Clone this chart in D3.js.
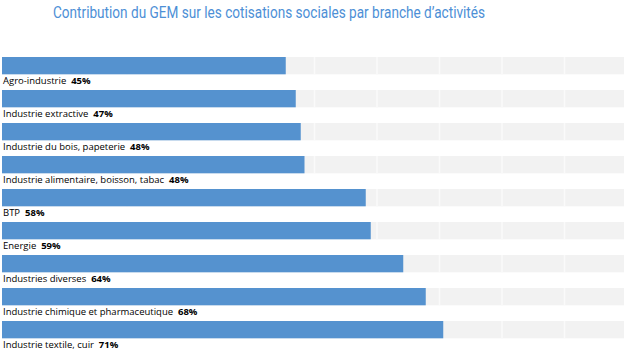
<!DOCTYPE html>
<html>
<head>
<meta charset="utf-8">
<script src="https://cdn.jsdelivr.net/npm/d3@7"></script>
<style>
  body { margin: 0; background: #fff; }
</style>
</head>
<body>
<script>
const categories = [
  'Agro-industrie',
  'Industrie extractive',
  'Industrie du bois, papeterie',
  'Industrie alimentaire, boisson, tabac',
  'BTP',
  'Energie',
  'Industries diverses',
  'Industrie chimique et pharmaceutique',
  'Industrie textile, cuir'
]
const values = [45.4, 47.0, 47.8, 48.4, 58.2, 59.0, 64.2, 67.8, 70.6]
const ticks = [10, 20, 30, 40, 50, 60, 70, 80, 90]

const width = 624
const height = 353
const left = 2

const svg = d3.select('body')
  .append('svg')
  .attr('width', width)
  .attr('height', height)

// title
svg.append('text')
  .attr('x', 269)
  .attr('y', 18)
  .attr('text-anchor', 'middle')
  .attr('textLength', 432)
  .attr('lengthAdjust', 'spacingAndGlyphs')
  .style('font-family', 'Roboto')
  .style('font-weight', 400)
  .style('font-size', '17px')
  .style('fill', '#4d8fd6')
  .text('Contribution du GEM sur les cotisations sociales par branche d\u2019activités')

const x = d3.scaleLinear()
  .domain([0, 100])
  .range([left, left + 625])

const y = d3.scaleBand()
  .domain(categories)
  .range([57, 57 + 33 * categories.length])
  .paddingInner(0)

const barH = 17.3

const rows = svg.append('g')
  .selectAll('g')
  .data(categories)
  .join('g')
  .attr('transform', d => `translate(0,${y(d)})`)

// grey track
rows.append('rect')
  .attr('x', x(0))
  .attr('width', x(100) - x(0))
  .attr('height', barH)
  .attr('fill', '#f2f2f2')

// faint gridlines inside each track
rows.selectAll('line')
  .data(ticks)
  .join('line')
  .attr('x1', d => x(d))
  .attr('x2', d => x(d))
  .attr('y1', 0)
  .attr('y2', barH)
  .attr('stroke', '#fafafa')
  .attr('stroke-width', 1.5)

// bars
rows.append('rect')
  .attr('x', x(0))
  .attr('width', (d, i) => x(values[i]) - x(0))
  .attr('height', barH)
  .attr('fill', '#5592cf')

// labels
const lbl = rows.append('text')
  .attr('x', 3)
  .attr('y', barH + 10)
  .style('font-family', 'Open Sans')
  .style('font-size', '9.5px')
  .style('fill', '#000')

lbl.append('tspan')
  .text(d => d + '\u00a0\u00a0')

lbl.append('tspan')
  .style('font-weight', 'bold')
  .text((d, i) => Math.round(values[i]) + '%')
</script>
</body>
</html>
